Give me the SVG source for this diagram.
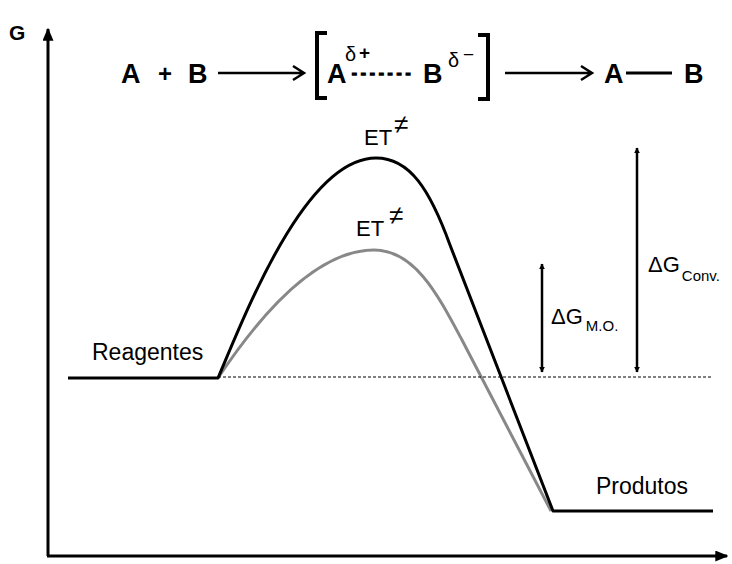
<svg xmlns="http://www.w3.org/2000/svg" width="732" height="564" viewBox="0 0 732 564">
<defs>
<style>
.t{font-family:"Liberation Sans",Arial,sans-serif;fill:#000}
.b{font-weight:bold}
.ln{fill:none;stroke:#000;stroke-width:3}
.thin{fill:none;stroke:#000;stroke-width:2.5}
.br{fill:none;stroke:#000;stroke-width:4}
.dg{fill:none;stroke:#000;stroke-width:2.5}
</style>
<marker id="ah" viewBox="0 0 10 10" refX="9" refY="5" markerWidth="6" markerHeight="6" orient="auto-start-reverse" markerUnits="userSpaceOnUse">
<path d="M0,0 L10,5 L0,10 z" fill="#000"/>
</marker>
<marker id="axh" viewBox="0 0 10 10" refX="9" refY="5" markerWidth="13" markerHeight="11" orient="auto" markerUnits="userSpaceOnUse" preserveAspectRatio="none">
<path d="M0,0 L10,5 L0,10 z" fill="#000"/>
</marker>
</defs>
<rect width="732" height="564" fill="#fff"/>
<g id="axes">
<path class="ln" d="M48,556 V29" marker-end="url(#axh)"/>
<path class="ln" d="M47,556 H727" marker-end="url(#axh)"/>
<text class="t b" x="9" y="40" font-size="21">G</text>
</g>
<g id="reaction">
<text class="t b" x="121" y="83" font-size="27">A</text>
<text class="t b" x="158" y="82" font-size="24">+</text>
<text class="t b" x="188" y="83" font-size="27">B</text>
<path class="thin" d="M218,73 H304 M293,66 L304,73 L293,80"/>
<path class="br" d="M327,33 H317 V98 H327"/>
<text class="t b" x="327" y="83" font-size="27">A</text>
<text class="t" x="345" y="61" font-size="20">δ</text>
<text class="t b" x="359" y="59" font-size="19">+</text>
<text class="t b" x="352" y="78" font-size="14" letter-spacing="4.3" stroke="#000" stroke-width="1.6">-------</text>
<text class="t b" x="423" y="83" font-size="27">B</text>
<text class="t" x="448" y="67" font-size="20">δ</text>
<text class="t" x="463" y="61" font-size="19">−</text>
<path class="br" d="M478,35 H488 V99 H478"/>
<path class="thin" d="M505,73 H592 M581,66 L592,73 L581,80"/>
<text class="t b" x="604" y="83" font-size="27">A</text>
<path class="ln" d="M626,73 H672"/>
<text class="t b" x="684" y="83" font-size="27">B</text>
</g>
<g id="curves">
<path fill="none" stroke="#888" stroke-width="3" d="M218,378 C250,330 310,250 374,250 C415,250 438,295 462,340 L551,511"/>
<path fill="none" stroke="#000" stroke-width="3" stroke-linejoin="round" d="M68,378 H218 C245,315 305,158 376,158 C410,158 430,190 450,245 L553,511 H713"/>
<path fill="none" stroke="#000" stroke-width="1" stroke-dasharray="3,2" d="M218,377 H713"/>
</g>
<g id="labels">
<text class="t" x="92" y="360" font-size="23">Reagentes</text>
<text class="t" x="596" y="494" font-size="23">Produtos</text>
<text class="t" x="364" y="145" font-size="22">ET</text>
<text class="t" x="394" y="133" font-size="26">≠</text>
<text class="t" x="356" y="236" font-size="22">ET</text>
<text class="t" x="389" y="224" font-size="26">≠</text>
</g>
<g id="dg-mo">
<path class="dg" d="M542,264 V372" marker-start="url(#ah)" marker-end="url(#ah)"/>
<text class="t" x="551" y="324" font-size="22">ΔG<tspan font-size="15" dx="3" dy="7">M.O.</tspan></text>
</g>
<g id="dg-conv">
<path class="dg" d="M637,148 V372" marker-start="url(#ah)" marker-end="url(#ah)"/>
<text class="t" x="648" y="272" font-size="22">ΔG<tspan font-size="15" dx="2" dy="9">Conv.</tspan></text>
</g>
</svg>
